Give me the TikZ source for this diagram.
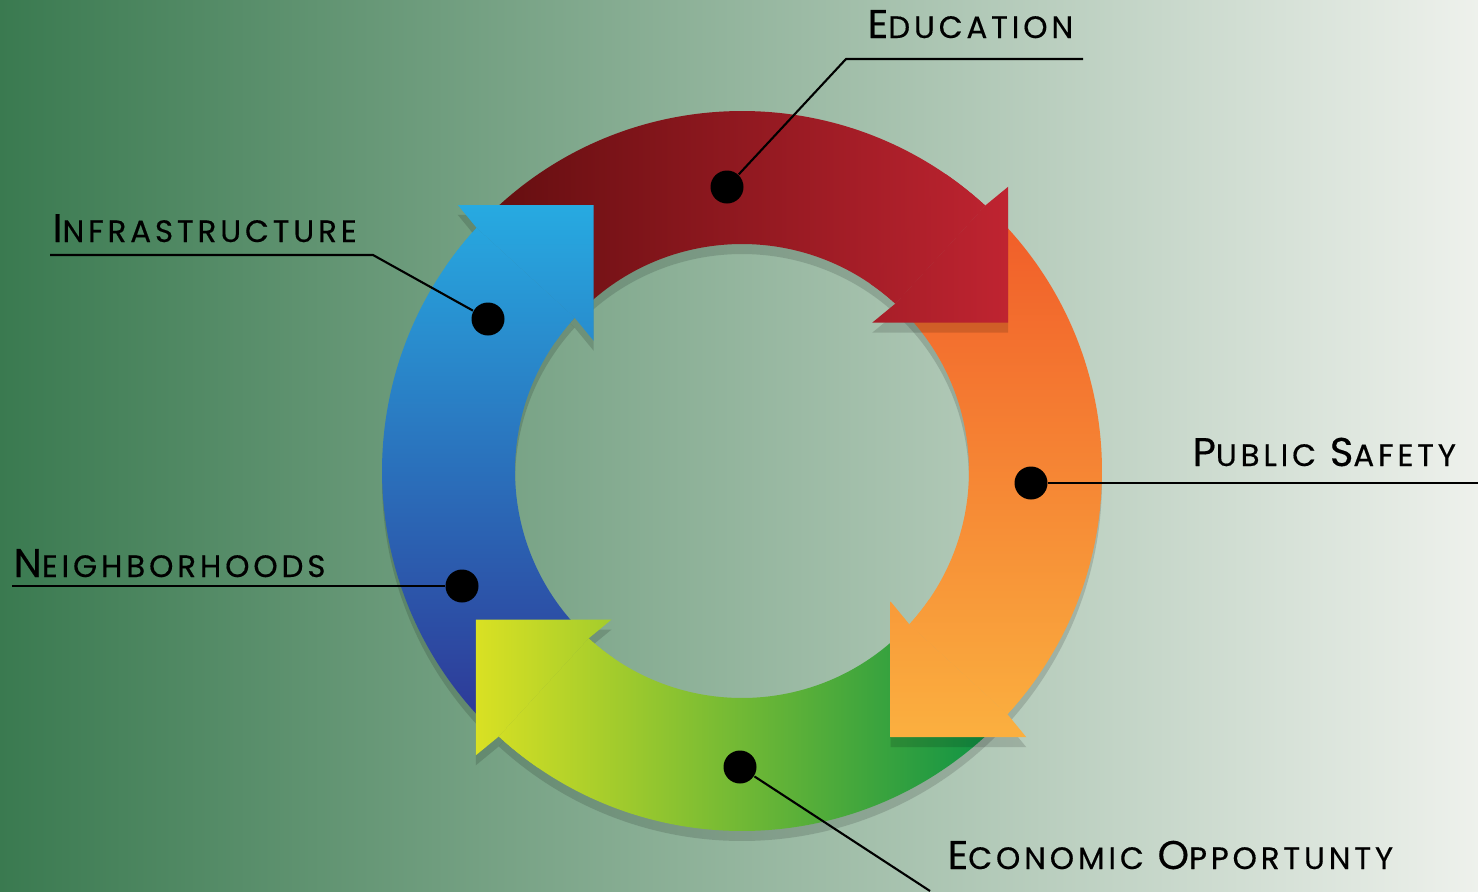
\documentclass[tikz,border=0pt]{standalone}
\usepackage{fontspec}
\setmainfont{Poppins}[LetterSpace=12.5, FakeBold=0.4]
\usetikzlibrary{calc}

\definecolor{bgleft}{RGB}{58,122,80}
\definecolor{bgright}{RGB}{238,241,236}
\definecolor{redl}{RGB}{100,14,16}
\definecolor{redr}{RGB}{192,36,49}
\definecolor{orangetop}{RGB}{240,88,40}
\definecolor{orangebot}{RGB}{251,178,64}
\definecolor{greenl}{RGB}{218,225,35}
\definecolor{greenr}{RGB}{10,145,70}
\definecolor{bluetop}{RGB}{39,170,225}
\definecolor{bluebot}{RGB}{46,49,146}

% big first letter, small capitals after it
\newcommand\capword[2]{{\fontsize{11.4}{12}\selectfont #1}{\fontsize{8.8}{10}\selectfont #2}}

% ring: outer 3.6, inner 2.27, arrow ends at angle #1
\newcommand\ringbody[1]{(#1+87.5:3.6) arc[start angle=#1+87.5, end angle=#1, radius=3.6]
  -- (#1:2.27) arc[start angle=#1, end angle=#1+87.5, radius=2.27] -- cycle}
\newcommand\ringend[1]{(#1+8:3.6) arc[start angle=#1+8, end angle=#1, radius=3.6]
  -- (#1:2.27) arc[start angle=#1, end angle=#1+8, radius=2.27] -- cycle}
\newcommand\ringhead[1]{(#1:3.6) -- ($(#1:2.935)+(#1-2.5:0.96)$)
  -- ($(#1:2.935)+(#1-92.5:0.96)$) -- ($(#1:2.935)+(#1-2.5:-0.96)$) -- (#1:2.27) -- cycle}

\tikzset{
  ringshadow/.style={fill=black, fill opacity=0.14, yshift=-0.1cm},
  redgrad/.style={path picture={\shade[left color=redl, right color=redr] (-2.45,1.2) rectangle (2.7,3.75);}},
  orangegrad/.style={path picture={\shade[top color=orangetop, bottom color=orangebot] (1.2,-2.8) rectangle (3.7,2.85);}},
  greengrad/.style={path picture={\shade[left color=greenl, right color=greenr] (-2.68,-3.75) rectangle (2.6,-1.3);}},
  bluegrad/.style={path picture={\shade[top color=bluetop, bottom color=bluebot] (-3.7,-2.85) rectangle (-1.4,2.66);}},
  dotmark/.style={circle, fill=black, minimum size=0.33cm, inner sep=0},
  leader/.style={line width=0.6pt},
  tag/.style={anchor=base west, inner sep=0}
}

\begin{document}
\begin{tikzpicture}
\useasboundingbox (0,0) rectangle (14.78,8.91);
\shade[left color=bgleft, right color=bgright] (0,0) rectangle (14.78,8.91);

\begin{scope}[shift={(7.42,4.20)}]
% shadows under the ring
\foreach \a in {47.5,-42.5,-132.5,137.5}
  \fill[ringshadow] \ringbody{\a};
\foreach \a/\g in {47.5/redgrad,-42.5/orangegrad,-132.5/greengrad,137.5/bluegrad}
  \path[\g] \ringbody{\a};
% heads lie on the next piece
\foreach \a in {47.5,-42.5,-132.5,137.5}
  \fill[ringshadow] \ringhead{\a};
\foreach \a/\g in {47.5/redgrad,-42.5/orangegrad,-132.5/greengrad,137.5/bluegrad}
  \path[\g] \ringend{\a};
\foreach \a/\g in {47.5/redgrad,-42.5/orangegrad,-132.5/greengrad,137.5/bluegrad}
  \path[\g] \ringhead{\a};
\end{scope}

% labels
\node[dotmark] (edu) at (7.27,7.04) {};
\coordinate (eduBend) at (8.46,8.32);
\coordinate (eduEnd) at (10.83,8.32);
\draw[leader] (edu) -- (eduBend) -- (eduEnd);
\node[tag] (eduText) at (8.67,8.53) {\capword{E}{DUCATION}};

\node[dotmark] (inf) at (4.88,5.72) {};
\coordinate (infBend) at (3.73,6.36);
\coordinate (infEnd) at (0.50,6.36);
\draw[leader] (inf) -- (infBend) -- (infEnd);
\node[tag] (infText) at (0.52,6.49) {\capword{I}{NFRASTRUCTURE}};

\node[dotmark] (pub) at (10.31,4.08) {};
\coordinate (pubEnd) at (14.78,4.08);
\draw[leader] (pub) -- (pubEnd);
\node[tag] (pubText) at (11.92,4.25) {\capword{P}{UBLIC} \capword{S}{AFETY}};

\node[dotmark] (nbh) at (4.62,3.05) {};
\coordinate (nbhEnd) at (0.12,3.05);
\draw[leader] (nbh) -- (nbhEnd);
\node[tag] (nbhText) at (0.13,3.14) {\capword{N}{EIGHBORHOODS}};

\node[dotmark] (eco) at (7.40,1.24) {};
\coordinate (ecoEnd) at (9.30,0);
\draw[leader] (eco) -- (ecoEnd);
\node[tag] (ecoText) at (9.47,0.22) {\capword{E}{CONOMIC} \capword{O}{PPORTUNTY}};

\end{tikzpicture}
\end{document}
